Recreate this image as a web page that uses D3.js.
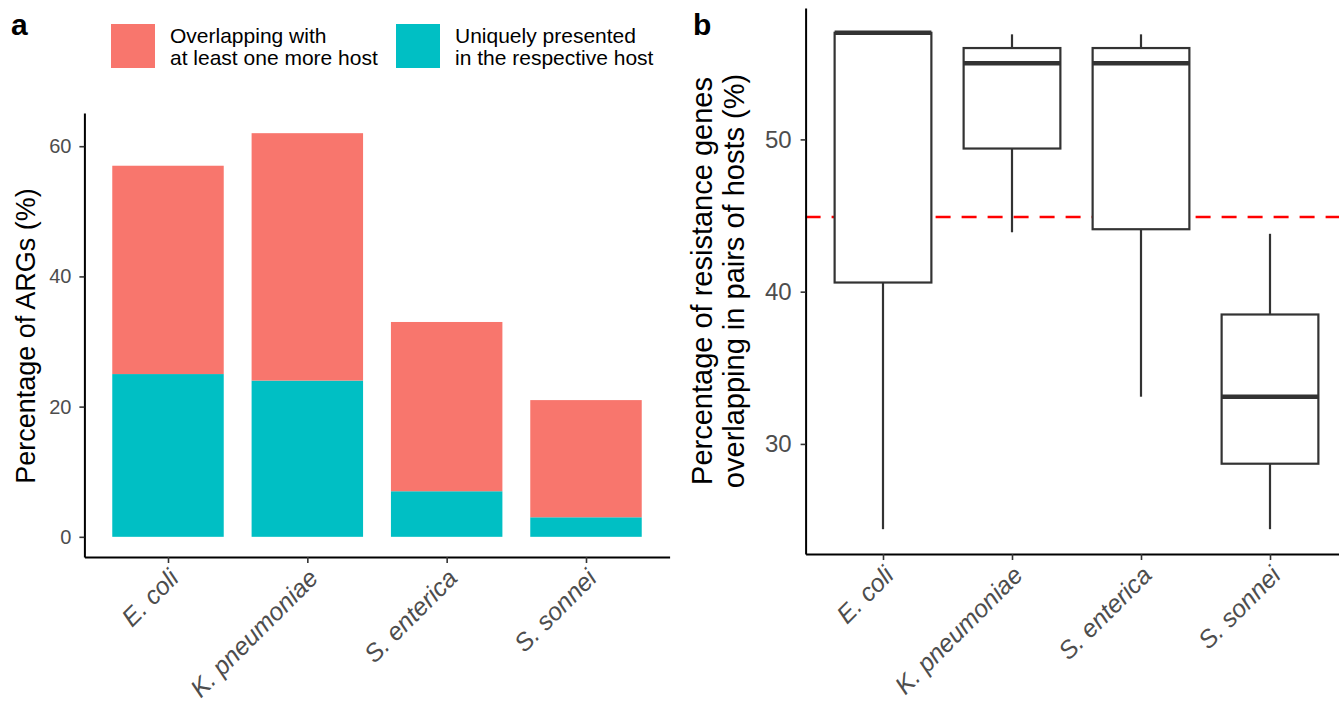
<!DOCTYPE html>
<html>
<head>
<meta charset="utf-8">
<script src="https://cdn.jsdelivr.net/npm/d3@7"></script>
<style>
  body { margin: 0; background: #fff; }
  text { font-family: "Liberation Sans", Arial, Helvetica, sans-serif; }
</style>
</head>
<body>
<div class="chart"></div>
<script>
var svgWidth = 1339;
var svgHeight = 707;

// Data
var hosts = ["E. coli", "K. pneumoniae", "S. enterica", "S. sonnei"];
var uniqueArgs = [25, 24, 7, 3];        // uniquely presented in the respective host
var overlapArgs = [32, 38, 26, 18];     // overlapping with at least one more host
var legendLabels = [["Overlapping with", "at least one more host"],
                    ["Uniquely presented", "in the respective host"]];
var ticksA = [0, 20, 40, 60];

var boxMin = [24.4, 43.9, 33.1, 24.4];
var boxQ1 = [40.6, 49.4, 44.1, 28.7];
var boxMedian = [57.0, 55.0, 55.0, 33.1];
var boxQ3 = [57.0, 56.0, 56.0, 38.5];
var boxMax = [57.0, 56.9, 56.9, 43.8];
var meanLine = 44.9;
var ticksB = [30, 40, 50];

var pink = "#F8766D", teal = "#00BFC4";

var svg = d3.select(".chart")
  .append("svg")
  .attr("width", svgWidth)
  .attr("height", svgHeight);

// ---------- panel a ----------
var xA = d3.scaleLinear().domain([0.4, 4.6]).range([84.4, 669.6]);
var yA = d3.scaleLinear().domain([-3.1, 65.1]).range([557, 113]);

var rows = hosts.map(function (h, i) {
  return { host: h, idx: i + 1, unique: uniqueArgs[i], overlap: overlapArgs[i] };
});
var stacked = d3.stack().keys(["unique", "overlap"])(rows);
var colour = { unique: teal, overlap: pink };
var barW = xA(1.8) - xA(1);

var gA = svg.append("g");
gA.selectAll("g.layer")
  .data(stacked)
  .enter()
  .append("g")
  .attr("fill", d => colour[d.key])
  .selectAll("rect")
  .data(d => d)
  .enter()
  .append("rect")
  .attr("x", d => xA(d.data.idx) - barW / 2)
  .attr("width", barW)
  .attr("y", d => yA(d[1]))
  .attr("height", d => yA(d[0]) - yA(d[1]));

var axA_y = gA.append("g")
  .attr("transform", "translate(84.4,0)")
  .call(d3.axisLeft(yA).tickValues(ticksA).tickSize(5).tickSizeOuter(0).tickPadding(8));
var axA_x = gA.append("g")
  .attr("transform", "translate(0,557)")
  .call(d3.axisBottom(xA).tickValues([1, 2, 3, 4]).tickFormat(d => hosts[d - 1])
    .tickSize(6).tickSizeOuter(0));

function styleAxis(ax, fs) {
  ax.select(".domain").attr("stroke", "#000").attr("stroke-width", 2);
  ax.selectAll(".tick line").attr("stroke", "#333").attr("stroke-width", 1.6);
  ax.selectAll(".tick text").attr("fill", "#4D4D4D").style("font-size", fs + "px");
}
function rotateLabels(ax, fs) {
  ax.selectAll(".tick text")
    .attr("x", 0).attr("y", 0).attr("dy", "0.72em")
    .attr("text-anchor", "end")
    .attr("font-style", "italic")
    .attr("transform", "translate(-1,10) rotate(-45)")
    .style("font-size", fs + "px");
}
styleAxis(axA_y, 20);
styleAxis(axA_x, 25);
rotateLabels(axA_x, 25);

gA.append("text")
  .attr("transform", "translate(35,336) rotate(-90)")
  .attr("text-anchor", "middle")
  .style("font-size", "27px")
  .text("Percentage of ARGs (%)");

// legend
var legX = [111, 396];
var legCol = [pink, teal];
legX.forEach(function (lx, i) {
  gA.append("rect").attr("x", lx).attr("y", 24).attr("width", 44).attr("height", 44)
    .attr("fill", legCol[i]);
  var t = gA.append("text").attr("x", lx + 59).attr("y", 43).style("font-size", "21px");
  t.append("tspan").attr("x", lx + 59).text(legendLabels[i][0]);
  t.append("tspan").attr("x", lx + 59).attr("dy", 22).text(legendLabels[i][1]);
});

gA.append("text").attr("x", 11).attr("y", 35)
  .style("font-size", "30px").style("font-weight", "bold").text("a");

// ---------- panel b ----------
var xB = d3.scaleLinear().domain([0.4, 4.6]).range([805.6, 805.6 + 4.2 * 129]);
var yB = d3.scaleLinear().domain([22.77, 58.63]).range([554, 8]);
var boxW = xB(1.75) - xB(1);

var gB = svg.append("g");
var boxes = hosts.map(function (h, i) {
  return { idx: i + 1, min: boxMin[i], q1: boxQ1[i], med: boxMedian[i], q3: boxQ3[i], max: boxMax[i] };
});

gB.append("line")
  .attr("x1", xB(0.4)).attr("x2", svgWidth)
  .attr("y1", yB(meanLine)).attr("y2", yB(meanLine))
  .attr("stroke", "#FF0000").attr("stroke-width", 2.4)
  .attr("stroke-dasharray", "15,11");

var bg = gB.selectAll("g.box").data(boxes).enter().append("g")
  .attr("stroke", "#333333").attr("fill", "none");
bg.append("line")
  .attr("x1", d => xB(d.idx)).attr("x2", d => xB(d.idx))
  .attr("y1", d => yB(d.max)).attr("y2", d => yB(d.q3))
  .attr("stroke-width", 2.2);
bg.append("line")
  .attr("x1", d => xB(d.idx)).attr("x2", d => xB(d.idx))
  .attr("y1", d => yB(d.q1)).attr("y2", d => yB(d.min))
  .attr("stroke-width", 2.2);
bg.append("rect")
  .attr("x", d => xB(d.idx) - boxW / 2).attr("width", boxW)
  .attr("y", d => yB(d.q3)).attr("height", d => yB(d.q1) - yB(d.q3))
  .attr("fill", "#fff").attr("stroke-width", 2.2);
bg.append("line")
  .attr("x1", d => xB(d.idx) - boxW / 2).attr("x2", d => xB(d.idx) + boxW / 2)
  .attr("y1", d => yB(d.med)).attr("y2", d => yB(d.med))
  .attr("stroke-width", 4.6);

var axB_y = gB.append("g")
  .attr("transform", "translate(805.6,0)")
  .call(d3.axisLeft(yB).tickValues(ticksB).tickSize(5).tickSizeOuter(0).tickPadding(9));
var axB_x = gB.append("g")
  .attr("transform", "translate(0,554)")
  .call(d3.axisBottom(xB).tickValues([1, 2, 3, 4]).tickFormat(d => hosts[d - 1])
    .tickSize(6).tickSizeOuter(0));
styleAxis(axB_y, 24);
styleAxis(axB_x, 25);
rotateLabels(axB_x, 25);

var tb = gB.append("text")
  .attr("transform", "translate(0,281) rotate(-90)")
  .attr("text-anchor", "middle")
  .style("font-size", "29px");
tb.append("tspan").attr("x", 0).attr("y", 712).text("Percentage of resistance genes");
tb.append("tspan").attr("x", 0).attr("y", 744).text("overlapping in pairs of hosts (%)");

gB.append("text").attr("x", 693).attr("y", 35)
  .style("font-size", "30px").style("font-weight", "bold").text("b");
</script>
</body>
</html>
